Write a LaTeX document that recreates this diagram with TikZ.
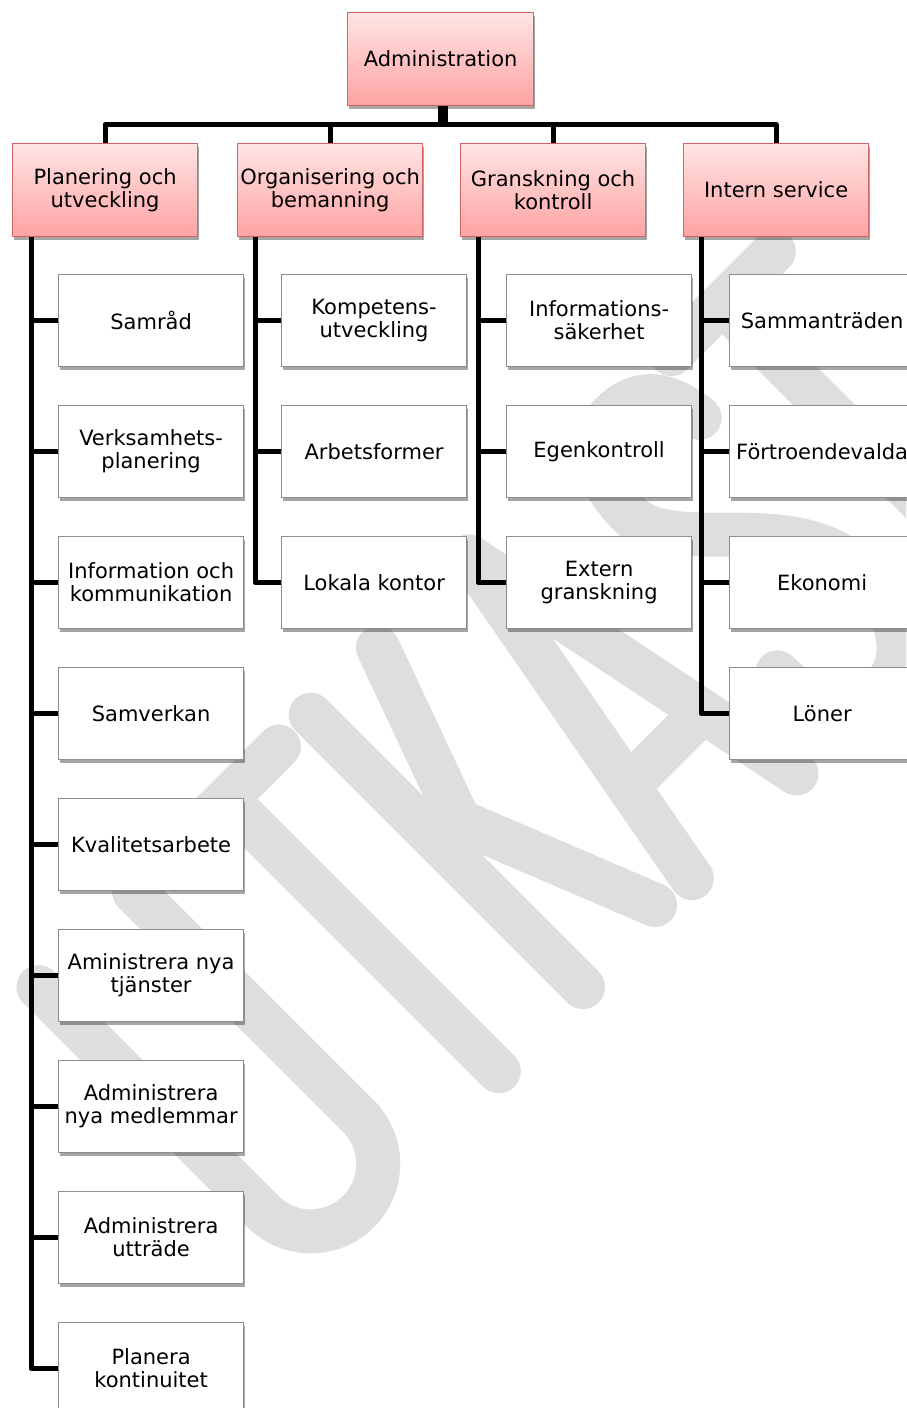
\documentclass[tikz,border=0pt]{standalone}
\usepackage{fontspec}
\setmainfont{DejaVu Sans}
\usetikzlibrary{shadows,calc}
\definecolor{pinkTop}{HTML}{FFE4E4}
\definecolor{pinkBot}{HTML}{FFA3A3}
\definecolor{pinkLine}{HTML}{D06464}
\definecolor{boxLine}{HTML}{8C8C8C}
\definecolor{markGray}{HTML}{DEDEDE}

\begin{document}
\begin{tikzpicture}[x=1pt,y=-1pt,
  every node/.style={font=\fontsize{21}{23}\selectfont, align=center, inner sep=0pt},
  softshadow/.style={drop shadow={shadow xshift=1.5pt, shadow yshift=-3pt, opacity=0.35, fill=black}},
  headbox/.style={draw=pinkLine, line width=1.2pt, top color=pinkTop, bottom color=pinkBot,
    minimum width=185pt, minimum height=93pt, softshadow, anchor=north west},
  itembox/.style={draw=boxLine, line width=1.2pt, fill=white,
    minimum width=185pt, minimum height=92pt, softshadow, anchor=north west},
  link/.style={line width=5pt, line join=round},
  markstroke/.style={draw=markGray, line width=44pt, line cap=round, line join=round}
]
\useasboundingbox (0,0) rectangle (906,1408);
\fill[white] (0,0) rectangle (906,1408);

% diagonal draft watermark, drawn as round-ended strokes in a rotated frame
\begin{scope}
\clip (0,0) rectangle (906,1408);
\begin{scope}[shift={(339,1231)}, x={(0.7071pt,0.7071pt)}, y={(-0.7071pt,0.7071pt)}]
  % U
  \draw[markstroke] (-40,385) -- (-40,67.5)
    .. controls (-40,30.2) and (-9.8,0) .. (27.5,0)
    .. controls (64.8,0) and (95,30.2) .. (95,67.5) -- (95,385);
  % T
  \draw[markstroke] (152,385) -- (300,385) (226,385) -- (226,0);
  % K
  \draw[markstroke] (345,385) -- (345,0);
  \draw[markstroke] (440,385) -- (375,205) -- (454,7);
  % A
  \draw[markstroke] (499,0) -- (569,385) -- (647,0);
  \draw[markstroke] (519,110) -- (625,110);
  % S
  \draw[markstroke] (830,320) .. controls (825,370) and (800,385) .. (770,385)
    .. controls (735,385) and (712,355) .. (712,300)
    .. controls (712,240) and (835,190) .. (835,100)
    .. controls (835,35) and (805,0) .. (770,0)
    .. controls (730,0) and (705,30) .. (705,85);
  % T
  \draw[markstroke] (855,385) -- (1000,385) (927,385) -- (927,0);
\end{scope}
\end{scope}

% top level
\node[headbox, minimum width=186pt] (admin) at (347,12) {Administration};

% second level
\node[headbox] (p1) at (12,143)  {Planering och\\utveckling};
\node[headbox] (p2) at (237,143) {Organisering och\\bemanning};
\node[headbox] (p3) at (460,143) {Granskning och\\kontroll};
\node[headbox] (p4) at (683,143) {Intern service};

% column 1
\node[itembox] (a1) at (58,274)  {Samråd};
\node[itembox] (a2) at (58,405)  {Verksamhets-\\planering};
\node[itembox] (a3) at (58,536)  {Information och\\kommunikation};
\node[itembox] (a4) at (58,667)  {Samverkan};
\node[itembox] (a5) at (58,798)  {Kvalitetsarbete};
\node[itembox] (a6) at (58,929)  {Aministrera nya\\tjänster};
\node[itembox] (a7) at (58,1060) {Administrera\\nya medlemmar};
\node[itembox] (a8) at (58,1191) {Administrera\\utträde};
\node[itembox] (a9) at (58,1322) {Planera\\kontinuitet};

% column 2
\node[itembox] (b1) at (281,274) {Kompetens-\\utveckling};
\node[itembox] (b2) at (281,405) {Arbetsformer};
\node[itembox] (b3) at (281,536) {Lokala kontor};

% column 3
\node[itembox] (c1) at (506,274) {Informations-\\säkerhet};
\node[itembox] (c2) at (506,405) {Egenkontroll};
\node[itembox] (c3) at (506,536) {Extern\\granskning};

% column 4
\node[itembox] (d1) at (729,274) {Sammanträden};
\node[itembox] (d2) at (729,405) {Förtroendevalda};
\node[itembox] (d3) at (729,536) {Ekonomi};
\node[itembox] (d4) at (729,667) {Löner};

% connectors from the top box
\coordinate (bar) at (443,124.5);
\draw[line width=10pt] (admin.south -| bar) -- (bar);
\foreach \p in {p1,p2,p3,p4}
  \draw[link] (bar) -| (\p.north);

% rails under each second-level box
\coordinate (r1) at ($(p1.south west)+(19,0)$);
\coordinate (r2) at ($(p2.south west)+(18,0)$);
\coordinate (r3) at ($(p3.south west)+(18,0)$);
\coordinate (r4) at ($(p4.south west)+(18,0)$);

\draw[link] (r1) |- (a9.west);
\foreach \n in {a1,a2,a3,a4,a5,a6,a7,a8}
  \draw[link] (r1 |- \n.west) -- (\n.west);

\draw[link] (r2) |- (b3.west);
\foreach \n in {b1,b2}
  \draw[link] (r2 |- \n.west) -- (\n.west);

\draw[link] (r3) |- (c3.west);
\foreach \n in {c1,c2}
  \draw[link] (r3 |- \n.west) -- (\n.west);

\draw[link] (r4) |- (d4.west);
\foreach \n in {d1,d2,d3}
  \draw[link] (r4 |- \n.west) -- (\n.west);
\end{tikzpicture}
\end{document}
